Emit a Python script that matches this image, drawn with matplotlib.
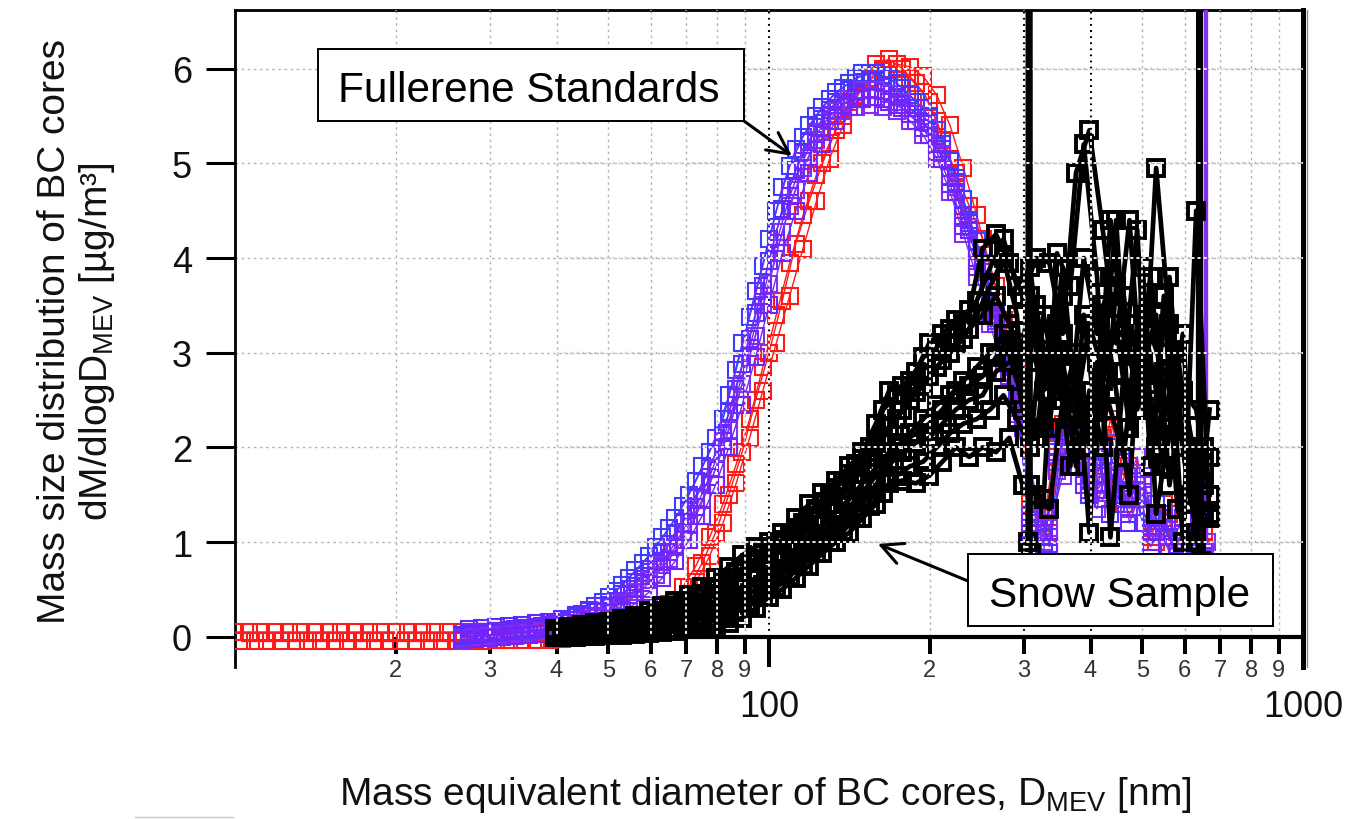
import matplotlib
matplotlib.use("Agg")
import matplotlib.pyplot as plt
from matplotlib.patches import Rectangle
from matplotlib.lines import Line2D
from matplotlib.ticker import FixedLocator, FixedFormatter, NullLocator

plt.rcParams["font.family"] = ["Liberation Sans", "DejaVu Sans"]
plt.rcParams["mathtext.default"] = "regular"
plt.rcParams["lines.scale_dashes"] = False

W, H = 1354, 820

# ---------------- data ----------------
# diameter bins [nm], two interleaved bin sets
GRID_A = [10.0, 10.6, 11.2, 11.9, 12.6, 13.3, 14.1, 15.0, 15.8, 16.8,
          17.8, 18.8, 20.0, 21.1, 22.4, 23.7, 25.1, 26.6, 28.2, 29.9,
          31.6, 33.5, 35.5, 37.6, 39.8, 42.2, 44.7, 47.3, 50.1, 53.1,
          56.2, 59.6, 63.1, 66.8, 70.8, 75.0, 79.4, 84.1, 89.1, 94.4,
          100.0, 105.9, 112.2, 118.9, 125.9, 133.4, 141.3, 149.6, 158.5, 167.9,
          177.8, 188.4, 199.5, 211.3, 223.9, 237.1, 251.2, 266.1, 281.8, 298.5,
          316.2, 335.0, 354.8, 375.8, 398.1, 421.7, 446.7, 473.2, 501.2, 530.9,
          562.3, 595.7, 631.0, 668.3]
GRID_B = [10.3, 10.9, 11.5, 12.2, 13.0, 13.7, 14.5, 15.4, 16.3, 17.3,
          18.3, 19.4, 20.5, 21.8, 23.1, 24.4, 25.9, 27.4, 29.0, 30.8,
          32.6, 34.5, 36.6, 38.7, 41.0, 43.5, 46.1, 48.8, 51.7, 54.7,
          58.0, 61.4, 65.1, 68.9, 73.0, 77.4, 82.0, 86.8, 92.0, 97.4,
          103.2, 109.3, 115.8, 122.7, 129.9, 137.6, 145.8, 154.5, 163.6, 173.3,
          183.6, 194.5, 206.1, 218.3, 231.2, 245.0, 259.5, 274.9, 291.2, 308.5,
          326.8, 346.2, 366.7, 388.5, 411.5, 435.9, 461.8, 489.2, 518.2, 548.9,
          581.5, 616.0, 652.6]

# Fullerene standards, red runs -- dM/dlogD [ug/m3]
RED_1 = [0.05, 0.05, 0.05, 0.05, 0.05, 0.05, 0.05, 0.05, 0.05, 0.05,
         0.05, 0.05, 0.05, 0.05, 0.05, 0.05, 0.05, 0.05, 0.05, 0.05,
         0.05, 0.05, 0.05, 0.05, 0.06, 0.06, 0.07, 0.08, 0.09, 0.11,
         0.14, 0.18, 0.22, 0.35, 0.52, 0.78, 1.10, 1.50, 1.95, 2.50,
         3.00, 3.55, 4.15, 4.60, 5.00, 5.35, 5.65, 5.90, 6.05, 6.10,
         6.00, 5.85, 5.65, 5.25, 4.90, 4.55, 4.20, 3.70, 3.10, 2.60,
         1.30, 1.10, 2.25, 2.35, 1.60, 2.10, 1.50, 1.80, 1.20, 1.00,
         1.30, 0.70, 0.90]
RED_2 = [-0.05, -0.05, -0.05, -0.05, -0.05, -0.05, -0.05, -0.05, -0.05, -0.05,
         -0.05, -0.05, -0.05, -0.05, -0.05, -0.05, -0.05, -0.05, -0.05, -0.04,
         -0.04, -0.04, -0.03, -0.03, -0.02, -0.01, 0.00, 0.02, 0.04, 0.07,
         0.10, 0.15, 0.24, 0.38, 0.58, 0.85, 1.20, 1.62, 2.10, 2.60,
         3.10, 3.60, 4.10, 4.60, 5.05, 5.40, 5.70, 5.90, 6.00, 6.00,
         5.90, 5.75, 5.45, 5.05, 4.55, 4.10, 3.55, 3.00, 2.55, 1.15,
         1.25, 1.90, 2.40, 1.85, 1.70, 2.20, 1.40, 1.60, 1.05, 1.40,
         0.95, 0.75, 1.10]
RED_3 = [0.00, 0.01, 0.02, 0.04, 0.06, 0.09, 0.14, 0.22, 0.35, 0.52,
         0.75, 1.05, 1.40, 1.82, 2.30, 2.85, 3.40, 3.95, 4.45, 4.88,
         5.22, 5.50, 5.72, 5.88, 5.98, 6.05, 6.02, 5.92, 5.72, 5.40,
         4.95, 4.45, 3.90, 3.35, 2.85,
         1.40, 1.20, 2.15, 2.45, 2.00, 1.55, 2.30, 1.70, 1.45, 1.15,
         1.25, 0.80, 1.00, 0.95]
# Fullerene standards, blue / violet runs (start at bin index 17)
BLUE_1 = [0.02, 0.04, 0.05, 0.06, 0.08, 0.09, 0.11, 0.14, 0.18, 0.24,
          0.32, 0.42, 0.55, 0.70, 0.85, 1.05, 1.25, 1.50, 1.80, 2.10,
          2.55, 3.10, 3.65, 4.20, 4.75, 5.15, 5.40, 5.60, 5.75, 5.85,
          5.95, 5.95, 5.90, 5.80, 5.65, 5.50, 5.20, 4.85, 4.40, 3.95,
          3.40, 2.90, 2.40, 1.20, 1.05, 2.10, 1.80, 1.50, 1.90, 1.40,
          1.70, 1.20, 1.40, 0.90, 0.80, 0.90]
BLUE_2 = [0.08, 0.09, 0.10, 0.11, 0.12, 0.14, 0.16, 0.19, 0.23, 0.27,
          0.32, 0.38, 0.50, 0.64, 0.80, 0.98, 1.20, 1.46, 1.78, 2.15,
          2.62, 3.15, 3.70, 4.28, 4.75, 5.12, 5.38, 5.56, 5.68, 5.75,
          5.78, 5.76, 5.70, 5.58, 5.44, 5.20, 4.86, 4.44, 4.00, 3.50,
          2.98, 2.50, 1.10, 0.90, 2.00, 2.35, 1.60, 1.95, 1.30, 1.85,
          1.45, 0.95, 1.20, 0.80, 1.05, 0.85]
BLUE_3 = [0.03, 0.05, 0.06, 0.07, 0.09, 0.10, 0.12, 0.16, 0.21, 0.28,
          0.37, 0.48, 0.62, 0.78, 0.95, 1.15, 1.38, 1.65, 1.95, 2.30,
          2.82, 3.38, 3.92, 4.50, 4.97, 5.28, 5.50, 5.68, 5.80, 5.90,
          5.95, 5.92, 5.85, 5.72, 5.58, 5.35, 5.02, 4.62, 4.18, 3.68,
          3.15, 2.65,
          1.15, 1.00, 1.95, 2.20, 1.70, 1.80, 1.60, 1.50, 1.55, 1.30,
          1.15, 0.85, 0.95, 0.90]
VIOLET_1 = [0.00, 0.02, 0.03, 0.04, 0.05, 0.06, 0.08, 0.10, 0.13, 0.17,
            0.22, 0.29, 0.38, 0.50, 0.65, 0.82, 1.02, 1.28, 1.60, 2.00,
            2.45, 2.95, 3.50, 4.05, 4.55, 4.95, 5.25, 5.45, 5.55, 5.60,
            5.62, 5.60, 5.55, 5.45, 5.30, 5.05, 4.70, 4.25, 3.80, 3.30,
            2.80, 2.35, 1.30, 1.00, 1.75, 2.25, 1.70, 1.35, 2.05, 1.55,
            1.90, 1.10, 1.30, 0.85, 1.00]
VIOLET_2 = [-0.03, -0.02, -0.01, 0.00, 0.01, 0.02, 0.03, 0.05, 0.07, 0.10,
            0.14, 0.19, 0.26, 0.35, 0.47, 0.62, 0.80, 1.02, 1.28, 1.60,
            2.00, 2.45, 2.95, 3.50, 4.05, 4.50, 4.90, 5.20, 5.45, 5.60,
            5.68, 5.70, 5.65, 5.58, 5.45, 5.30, 5.05, 4.70, 4.30, 3.85,
            3.30, 2.75, 2.20, 1.50, 0.95, 1.85, 2.20, 1.55, 1.45, 2.00,
            1.20, 1.60, 1.10, 0.95, 1.25, 0.80]
VIOLET_3 = [0.01, 0.02, 0.03, 0.04, 0.06, 0.07, 0.08, 0.11, 0.14, 0.19,
            0.26, 0.34, 0.45, 0.58, 0.72, 0.91, 1.10, 1.34, 1.63, 1.93,
            2.37, 2.88, 3.42, 3.97, 4.52, 4.93, 5.23, 5.47, 5.65, 5.77,
            5.86, 5.87, 5.82, 5.73, 5.58, 5.43, 5.15, 4.80, 4.37, 3.92,
            3.37, 2.85, 2.33,
            1.40, 0.98, 1.95, 2.05, 1.65, 1.70, 1.55, 1.30, 1.50, 1.25,
            1.05, 0.95, 1.10]
VIOLET_4 = [-0.01, 0.00, 0.01, 0.02, 0.03, 0.04, 0.06, 0.08, 0.11, 0.15,
            0.20, 0.27, 0.36, 0.47, 0.60, 0.76, 0.95, 1.18, 1.45, 1.77,
            2.18, 2.67, 3.18, 3.73, 4.28, 4.72, 5.07, 5.33, 5.55, 5.68,
            5.77, 5.78, 5.73, 5.65, 5.52, 5.37, 5.10, 4.75, 4.33, 3.88,
            3.33, 2.80, 2.27,
            1.25, 1.15, 1.70, 2.15, 1.75, 1.60, 1.85, 1.35, 1.70, 1.15,
            0.90, 1.10, 0.85]
VIOLET_5 = [0.04, 0.05, 0.06, 0.07, 0.08, 0.10, 0.12, 0.14, 0.18, 0.22,
            0.27, 0.33, 0.44, 0.57, 0.72, 0.90, 1.11, 1.37, 1.69, 2.07,
            2.53, 3.05, 3.60, 4.16, 4.65, 5.03, 5.31, 5.50, 5.62, 5.68,
            5.70, 5.68, 5.62, 5.52, 5.37, 5.12, 4.78, 4.34, 3.90, 3.40,
            2.89, 2.42,
            1.20, 1.10, 1.85, 2.30, 1.80, 1.55, 1.75, 1.45, 1.65, 1.00,
            1.25, 0.90, 0.95]
FULL_SPIKE_X = [655.0, 658.0, 661.0]
FULL_SPIKE_Y = [0.9, 60.0, 1.0]

# Snow sample runs (start at bin index 24)
SNOW_1 = [0.08, 0.10, 0.12, 0.14, 0.16, 0.19, 0.22, 0.27, 0.32, 0.38,
          0.44, 0.52, 0.62, 0.74, 0.86, 0.95, 1.00, 1.10, 1.25, 1.40,
          1.52, 1.65, 1.80, 1.95, 2.25, 2.60, 2.65, 2.80, 3.10, 3.20,
          3.35, 3.45, 4.10, 4.25, 3.95, 3.60, 4.00, 3.95, 3.20, 4.90,
          5.35, 4.30, 3.10, 4.40, 2.40, 4.95, 3.30, 1.00, 4.50, 1.25]
SNOW_2 = [0.05, 0.06, 0.08, 0.10, 0.12, 0.14, 0.17, 0.21, 0.25, 0.30,
          0.36, 0.42, 0.50, 0.58, 0.68, 0.78, 0.88, 1.00, 1.12, 1.25,
          1.40, 1.55, 1.72, 1.90, 2.10, 2.30, 2.50, 2.65, 2.85, 3.00,
          3.15, 3.40, 3.70, 4.00, 3.40, 1.60, 1.45, 4.05, 3.70, 5.20,
          3.80, 1.05, 2.80, 4.30, 1.80, 3.60, 1.35, 1.00, 1.80]
SNOW_3 = [0.00, 0.00, 0.01, 0.01, 0.02, 0.02, 0.03, 0.04, 0.05, 0.06,
          0.08, 0.10, 0.12, 0.15, 0.20, 0.30, 0.42, 0.50, 0.62, 0.75,
          0.88, 1.00, 1.10, 1.25, 1.40, 1.62, 1.65, 1.62, 1.70, 1.85,
          2.00, 1.90, 2.00, 1.95, 2.10, 1.60, 1.50, 1.35, 2.50, 3.00,
          1.10, 3.50, 2.60, 1.50, 3.90, 1.30, 2.20, 3.20, 1.00, 2.40]
SNOW_4 = [0.00, 0.01, 0.02, 0.03, 0.05, 0.06, 0.08, 0.10, 0.13, 0.16,
          0.20, 0.25, 0.31, 0.38, 0.46, 0.55, 0.65, 0.78, 0.90, 1.02,
          1.15, 1.30, 1.45, 1.62, 1.80, 2.00, 2.15, 2.30, 2.45, 2.55,
          2.70, 2.85, 3.00, 3.20, 2.70, 3.60, 2.20, 3.00, 1.80, 3.40,
          2.20, 4.40, 3.20, 2.60, 3.80, 2.30, 3.00, 2.00, 1.30]
SNOW_5 = [0.04, 0.06, 0.08, 0.10, 0.13, 0.15, 0.18, 0.22, 0.27, 0.32,
          0.38, 0.45, 0.53, 0.62, 0.72, 0.82, 0.92, 1.02, 1.15, 1.28,
          1.42, 1.57, 1.72, 1.88, 2.05, 2.22, 2.40, 2.58, 2.75, 2.92,
          3.10, 3.25, 3.40, 3.60, 3.30, 2.90, 3.50, 2.70, 3.90, 2.40,
          3.30, 2.80, 4.40, 2.20, 3.40, 2.60, 3.80, 2.00, 1.10, 1.30]
SNOW_6 = [0.00, 0.00, 0.01, 0.02, 0.03, 0.04, 0.05, 0.06, 0.08, 0.10,
          0.13, 0.16, 0.20, 0.26, 0.33, 0.42, 0.52, 0.64, 0.76, 0.88,
          1.00, 1.12, 1.25, 1.38, 1.52, 1.70, 1.80, 1.85, 2.00, 2.15,
          2.25, 2.30, 2.40, 2.55, 2.30, 2.00, 3.40, 2.60, 2.30, 2.00,
          2.90, 2.40, 1.90, 3.30, 2.50, 1.80, 2.60, 1.50, 2.00]
SNOW_7 = [0.02, 0.03, 0.05, 0.06, 0.08, 0.10, 0.12, 0.15, 0.18, 0.22,
          0.27, 0.32, 0.38, 0.45, 0.53, 0.62, 0.70, 0.80, 0.92, 1.05,
          1.18, 1.32, 1.45, 1.62, 1.78, 1.95, 2.05, 2.15, 2.25, 2.40,
          2.60, 2.65, 2.75, 2.95, 3.20, 2.40, 2.10, 3.20, 2.80, 1.80,
          2.60, 2.00, 3.70, 3.00, 2.80, 3.40, 1.60, 2.60, 2.40, 1.50]
SNOW_8 = [0.07, 0.09, 0.11, 0.13, 0.15, 0.18, 0.21, 0.25, 0.30, 0.36,
          0.42, 0.50, 0.58, 0.68, 0.78, 0.88, 0.98, 1.08, 1.20, 1.35,
          1.50, 1.65, 1.82, 2.00, 2.40, 2.55, 2.70, 2.95, 3.05, 3.25,
          3.30, 3.55, 3.90, 4.20, 3.70, 3.90, 2.60, 3.30, 2.40, 4.00,
          3.20, 3.80, 3.60, 2.40, 3.20, 2.80, 2.40, 1.40, 1.60]
SNOW_9 = [0.01, 0.02, 0.03, 0.04, 0.05, 0.06, 0.08, 0.09, 0.11, 0.14,
          0.17, 0.21, 0.26, 0.32, 0.40, 0.50, 0.58, 0.68, 0.80, 0.92,
          1.05, 1.18, 1.30, 1.45, 1.60, 1.82, 1.95, 2.05, 2.10, 2.25,
          2.40, 2.50, 2.55, 2.80, 2.90, 3.10, 2.90, 2.20, 3.60, 2.60,
          2.00, 2.70, 3.30, 2.20, 2.90, 2.00, 3.00, 2.60, 1.80, 1.90]
SNOW_SPIKE1_X = [305.0, 307.0, 309.0]
SNOW_SPIKE1_Y = [1.0, 60.0, 0.9]
SNOW_SPIKE2_X = [636.0, 640.0, 644.0]
SNOW_SPIKE2_Y = [0.6, 60.0, 0.8]

X_MAJOR_TICKS = [100, 1000]
X_MAJOR_LABELS = ["100", "1000"]
X_MINOR_TICKS = [20, 30, 40, 50, 60, 70, 80, 90, 200, 300, 400, 500, 600, 700, 800, 900]
X_MINOR_LABELS = ["2", "3", "4", "5", "6", "7", "8", "9", "2", "3", "4", "5", "6", "7", "8", "9"]
Y_TICKS = [0, 1, 2, 3, 4, 5, 6]
Y_TICK_LABELS = ["0", "1", "2", "3", "4", "5", "6"]

# ---------------- figure ----------------
fig = plt.figure(figsize=(W / 100, H / 100), dpi=100)
ax = fig.add_axes([235 / W, 1 - 668 / H, (1303 - 235) / W, (668 - 11) / H])
ax.set_xscale("log")

RED = "#ff1a1a"
BLUE = "#3d3dff"
BLUEV = "#5a2cff"
VIOL = "#8430f0"
VIOL2 = "#7424f8"
FULL_LW, FULL_MEW = 1.0, 1.5
SNOW_LW, SNOW_MEW = 3.4, 2.8
MS = 11
SERIES = [
    (GRID_A, 0, RED_1, RED, FULL_LW, FULL_MEW, 3.0),
    (GRID_B, 0, RED_2, RED, FULL_LW, FULL_MEW, 3.0),
    (GRID_B, 24, RED_3, RED, FULL_LW, FULL_MEW, 3.0),
    (GRID_A, 17, BLUE_1, BLUE, FULL_LW, FULL_MEW, 3.2),
    (GRID_B, 17, BLUE_3, BLUE, FULL_LW, FULL_MEW, 3.2),
    (GRID_B, 17, VIOLET_1, VIOL, FULL_LW, FULL_MEW, 3.2),
    (GRID_A, 17, VIOLET_3, BLUEV, FULL_LW, FULL_MEW, 3.2),
    (GRID_B, 17, BLUE_2, BLUEV, FULL_LW, FULL_MEW, 3.2),
    (GRID_A, 17, VIOLET_4, VIOL, FULL_LW, FULL_MEW, 3.2),
    (GRID_B, 17, VIOLET_5, VIOL2, FULL_LW, FULL_MEW, 3.2),
    (GRID_A, 17, VIOLET_2, VIOL2, FULL_LW, FULL_MEW, 3.2),
    (GRID_A, 24, SNOW_1, "black", SNOW_LW, SNOW_MEW, 3.5),
    (GRID_B, 24, SNOW_2, "black", SNOW_LW, SNOW_MEW, 3.5),
    (GRID_A, 24, SNOW_3, "black", SNOW_LW, SNOW_MEW, 3.5),
    (GRID_B, 24, SNOW_4, "black", SNOW_LW, SNOW_MEW, 3.5),
    (GRID_A, 24, SNOW_5, "black", SNOW_LW, SNOW_MEW, 3.5),
    (GRID_B, 24, SNOW_6, "black", SNOW_LW, SNOW_MEW, 3.5),
    (GRID_A, 24, SNOW_7, "black", SNOW_LW, SNOW_MEW, 3.5),
    (GRID_B, 24, SNOW_8, "black", SNOW_LW, SNOW_MEW, 3.5),
    (GRID_A, 24, SNOW_9, "black", SNOW_LW, SNOW_MEW, 3.5),
]
for grid, start, vals, col, lw, mew, z in SERIES:
    xs = grid[start:start + len(vals)]
    ax.plot(xs, vals, color=col, lw=lw, marker="s", ms=MS, mfc="none",
            mec=col, mew=mew, zorder=z)
ax.plot(FULL_SPIKE_X, FULL_SPIKE_Y, color=VIOL, lw=1.8, marker="s", ms=MS,
        mfc="none", mec=VIOL, mew=FULL_MEW, zorder=3.3)
for sx, sy in ((SNOW_SPIKE1_X, SNOW_SPIKE1_Y), (SNOW_SPIKE2_X, SNOW_SPIKE2_Y)):
    ax.plot(sx, sy, color="black", lw=3.2, marker="s", ms=MS, mfc="none",
            mec="black", mew=SNOW_MEW, zorder=3.5)

ax.set_xlim(10, 1000)
ax.set_ylim(-0.32, 6.62)
YTOP = 6.62

# ---------------- grid ----------------
GRAY = "#b4b4b4"
for y in Y_TICKS[1:]:
    ax.plot([10, 1000], [y, y], color=GRAY, lw=1.0, ls=(0, (2.2, 2.2)), zorder=0.5)
    ax.plot([40, 1000], [y, y], color="black", lw=1.5, ls=(0, (1.4, 3.0)), zorder=0.6)
    ax.plot([10, 1000], [y, y], color="white", lw=1.3, ls=(2.2, (2.2, 2.2)), zorder=5)
for x in X_MINOR_TICKS + [100]:
    if x in (100, 300, 400):
        ax.plot([x, x], [0, YTOP], color="black", lw=1.5, ls=(0, (1.4, 3.0)), zorder=0.6)
    else:
        ax.plot([x, x], [0, YTOP], color=GRAY, lw=1.0, ls=(0, (2.2, 2.2)), zorder=0.5)
    ax.plot([x, x], [0, YTOP], color="white", lw=1.3, ls=(2.2, (2.2, 2.2)), zorder=5)

# ---------------- axes styling ----------------
ax.spines["bottom"].set_position(("data", 0))
ax.spines["bottom"].set_bounds(40, 1000)
ax.spines["bottom"].set_linewidth(3.0)
ax.spines["bottom"].set_zorder(2)
ax.spines["left"].set_linewidth(2.0)
ax.spines["top"].set_linewidth(2.0)
ax.spines["right"].set_linewidth(3.6)

ax.xaxis.set_major_locator(FixedLocator(X_MAJOR_TICKS))
ax.xaxis.set_major_formatter(FixedFormatter(X_MAJOR_LABELS))
ax.xaxis.set_minor_locator(FixedLocator(X_MINOR_TICKS))
ax.xaxis.set_minor_formatter(FixedFormatter(X_MINOR_LABELS))
ax.yaxis.set_major_locator(FixedLocator(Y_TICKS))
ax.yaxis.set_major_formatter(FixedFormatter(Y_TICK_LABELS))
ax.yaxis.set_minor_locator(NullLocator())

ax.tick_params(axis="x", which="major", direction="out", length=21.5, width=2.9,
               labelsize=26, pad=16, colors="black", labelcolor="#111111")
ax.tick_params(axis="x", which="minor", direction="out", length=12, width=2.9,
               labelsize=17, pad=4, colors="black", labelcolor="#333333")
ax.tick_params(axis="y", which="major", direction="out", length=21, width=2.2,
               labelsize=26, pad=10, colors="black", labelcolor="#111111")

# ---------------- labels ----------------
fig.text(55 / W, 1 - 332 / H, "Mass size distribution of BC cores", rotation=90,
         ha="center", va="center", fontsize=28, color="#111111")
fig.text(97 / W, 1 - 342 / H, "dM/dlogD$_{MEV}$ [µg/m³]", rotation=90,
         ha="center", va="center", fontsize=28, color="#111111")
fig.text(765 / W, 1 - 795 / H, "Mass equivalent diameter of BC cores, D$_{MEV}$ [nm]",
         ha="center", va="center", fontsize=28, color="#111111")

# ---------------- annotations ----------------
arrow_kw = dict(arrowstyle="->,head_length=0.7,head_width=0.35", lw=2.2,
                color="black", shrinkA=0, shrinkB=0, mutation_scale=22)
ax.annotate("", xy=(110.4, 5.08), xycoords="data",
            xytext=(744, H - 122), textcoords="figure pixels",
            arrowprops=arrow_kw, zorder=6)
ax.annotate("", xy=(159.9, 0.98), xycoords="data",
            xytext=(968, H - 582), textcoords="figure pixels",
            arrowprops=arrow_kw, zorder=6)

fig.add_artist(Rectangle((318 / W, 1 - 122 / H), (744 - 318) / W, 72 / H,
                         transform=fig.transFigure, fc="white", ec="black", lw=1.4))
fig.text(529 / W, 1 - 102 / H, "Fullerene Standards", ha="center", va="baseline",
         fontsize=30.5, color="black")
fig.add_artist(Rectangle((968 / W, 1 - 627 / H), (1273 - 968) / W, 72 / H,
                         transform=fig.transFigure, fc="white", ec="black", lw=1.4))
fig.text(1120 / W, 1 - 607 / H, "Snow Sample", ha="center", va="baseline",
         fontsize=30.5, color="black")

# small decorative lines seen in the original
fig.add_artist(Line2D([1307 / W, 1307 / W], [1 - 668 / H, 1 - 11 / H],
                      color="#8a8a8a", lw=1.0, transform=fig.transFigure))
fig.add_artist(Line2D([135 / W, 233 / W], [1 - 818 / H, 1 - 818 / H],
                      color="#c8c8c8", lw=1.0, transform=fig.transFigure))

fig.savefig("out.png", dpi=100)
